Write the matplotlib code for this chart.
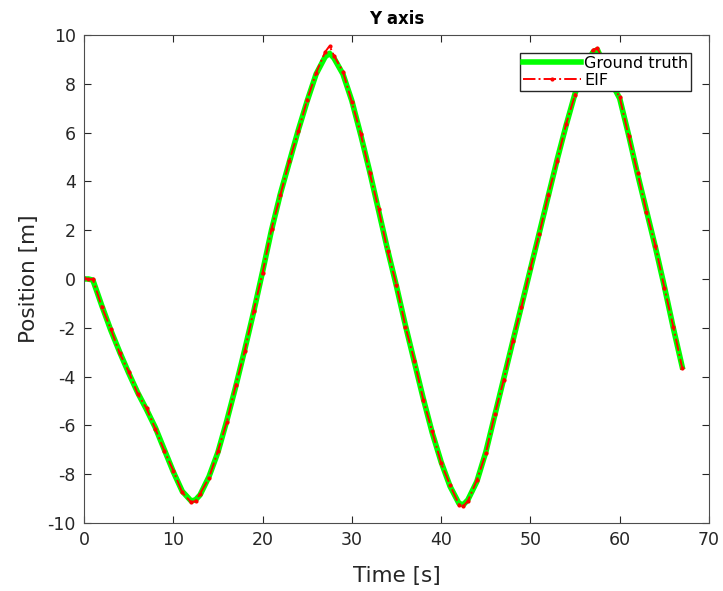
import matplotlib
matplotlib.use('Agg')
import matplotlib.pyplot as plt

plt.rcParams['axes.unicode_minus'] = False

# Y position over time: reference trajectory and filter estimate
time_s = [0, 0.5, 1.0, 2, 3, 4, 5, 6, 7, 8, 9, 10, 11, 12, 12.5, 13, 14, 15, 16, 17,
          18, 19, 20, 21, 22, 23, 24, 25, 26, 27, 27.5, 28, 29, 30, 31, 32, 33, 34, 35,
          36, 37, 38, 39, 40, 41, 42, 42.5, 43, 44, 45, 46, 47, 48, 49, 50, 51, 52, 53,
          54, 55, 56, 57, 57.5, 58, 59, 60, 61, 62, 63, 64, 65, 66, 67]

ground_truth = [0.0, 0.0, -0.05, -1.1, -2.1, -3.0, -3.85, -4.65, -5.35, -6.1, -7.0, -7.9,
                -8.7, -9.1, -9.05, -8.85, -8.1, -7.1, -5.8, -4.4, -2.9, -1.35, 0.3, 2.0,
                3.5, 4.8, 6.1, 7.3, 8.4, 9.1, 9.25, 9.05, 8.4, 7.3, 5.9, 4.4, 2.8, 1.2,
                -0.3, -1.9, -3.4, -4.9, -6.3, -7.5, -8.5, -9.2, -9.25, -9.05, -8.3, -7.1,
                -5.6, -4.1, -2.6, -1.1, 0.4, 1.9, 3.4, 4.9, 6.3, 7.6, 8.6, 9.3, 9.4, 9.0,
                8.1, 7.4, 5.9, 4.3, 2.8, 1.3, -0.3, -2.0, -3.6]

eif = [0.02, 0.0, -0.02, -1.15, -2.05, -3.05, -3.8, -4.7, -5.3, -6.15, -7.05, -7.85,
       -8.75, -9.15, -9.1, -8.8, -8.15, -7.05, -5.85, -4.35, -2.95, -1.3, 0.25, 2.05,
       3.45, 4.85, 6.05, 7.35, 8.45, 9.3, 9.55, 9.15, 8.5, 7.25, 5.95, 4.35, 2.85, 1.15,
       -0.25, -1.95, -3.35, -4.95, -6.25, -7.55, -8.45, -9.25, -9.3, -9.1, -8.25, -7.15,
       -5.55, -4.15, -2.55, -1.15, 0.45, 1.85, 3.45, 4.85, 6.35, 7.55, 8.65, 9.4, 9.45,
       9.1, 8.05, 7.45, 5.85, 4.35, 2.75, 1.35, -0.35, -1.95, -3.65]

fig = plt.figure(figsize=(7.23, 5.91), dpi=100)
ax = fig.add_axes([0.1162, 0.1151, 0.8644, 0.8257])

ax.plot(time_s, ground_truth, color='#00ff00', linewidth=4, label='Ground truth')
ax.plot(time_s, eif, color='red', linestyle='-.', linewidth=1.4,
        marker='.', markersize=4, label='EIF')

ax.set_xlim(0, 70)
ax.set_ylim(-10, 10)
ax.set_xticks(range(0, 71, 10))
ax.set_yticks(range(-10, 11, 2))
ax.tick_params(direction='in', top=True, right=True, labelsize=12.5,
               color='#262626', labelcolor='#262626', length=5, pad=6)
for sp in ax.spines.values():
    sp.set_color('#4d4d4d')
    sp.set_linewidth(0.8)

ax.set_xlabel('Time [s]', fontsize=15.5, color='#262626', labelpad=12)
ax.set_ylabel('Position [m]', fontsize=15.5, color='#262626', labelpad=6)
ax.set_title('Y axis', fontsize=12, fontweight='bold', pad=8)

ax.legend(loc='upper right', fontsize=11.5, handlelength=3.6, handletextpad=0.2,
          fancybox=False, framealpha=1, edgecolor='#262626',
          borderaxespad=1.1, borderpad=0.2, labelspacing=0.12)

fig.savefig('out.png', dpi=100)
